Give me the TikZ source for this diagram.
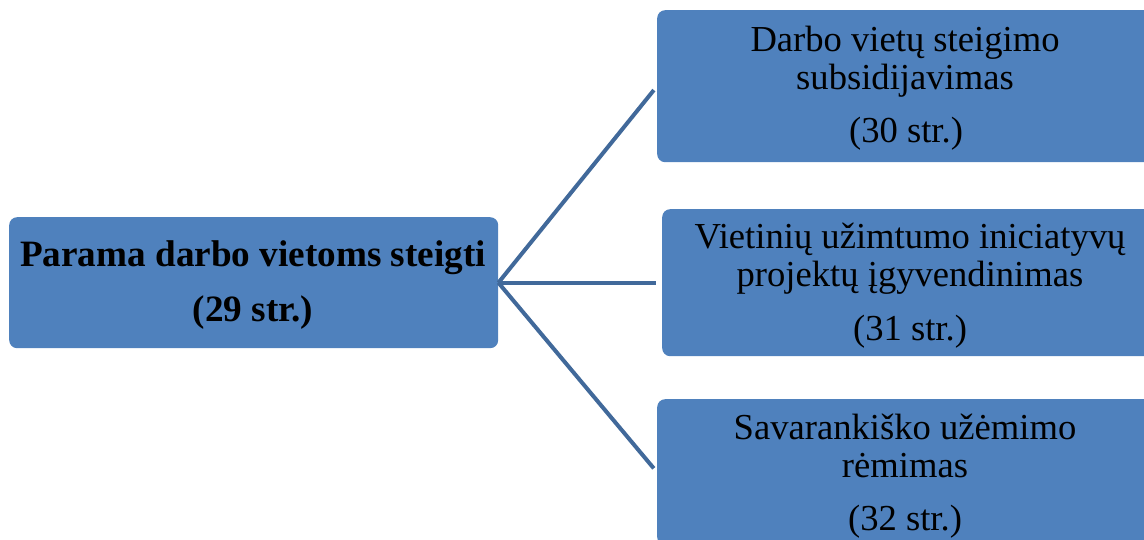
\documentclass[tikz,border=0pt]{standalone}
\usepackage{fontspec}
\setmainfont{Liberation Serif}
\definecolor{boxblue}{HTML}{4F81BD}
\definecolor{linkblue}{HTML}{41699A}
\begin{document}
\begin{tikzpicture}[x=1pt,y=-1pt,
  box/.style={fill=boxblue, rounded corners=8pt, inner sep=0pt, anchor=north west},
  link/.style={draw=linkblue, line width=4pt},
  txt/.style={anchor=base, inner sep=0pt, font=\fontsize{36.6}{40}\selectfont},
  btxt/.style={anchor=base, inner sep=0pt, font=\fontsize{37.2}{41}\selectfont\bfseries}]
\useasboundingbox (0,0) rectangle (1144,540);
\clip (0,0) rectangle (1144,540);
\node[box, minimum width=489pt, minimum height=131pt] (root) at (9,217) {};
\node[box, minimum width=500pt, minimum height=152pt] (top) at (657,10) {};
\node[box, minimum width=500pt, minimum height=147pt] (mid) at (662,209) {};
\node[box, minimum width=500pt, minimum height=146pt] (bot) at (657,399) {};
\draw[link, shorten >=5pt] (root.east) -- (top.west);
\draw[link, shorten >=6pt] (root.east) -- (mid.west);
\draw[link, shorten >=5pt] (root.east) -- (bot.west);
\node[btxt] (r1) at (253,267) {Parama darbo vietoms steigti};
\node[btxt] (r2) at (253,321) {(29 str.)};
\node[txt] (t1) at (905,52) {Darbo vietų steigimo};
\node[txt] (t2) at (905,90) {subsidijavimas};
\node[txt] (t3) at (906,143) {(30 str.)};
\node[txt] (m1) at (910,249) {Vietinių užimtumo iniciatyvų};
\node[txt] (m2) at (910,287) {projektų įgyvendinimas};
\node[txt] (m3) at (910,340) {(31 str.)};
\node[txt] (b1) at (905,439) {Savarankiško užėmimo};
\node[txt] (b2) at (905,477) {rėmimas};
\node[txt] (b3) at (905,530) {(32 str.)};
\end{tikzpicture}
\end{document}
